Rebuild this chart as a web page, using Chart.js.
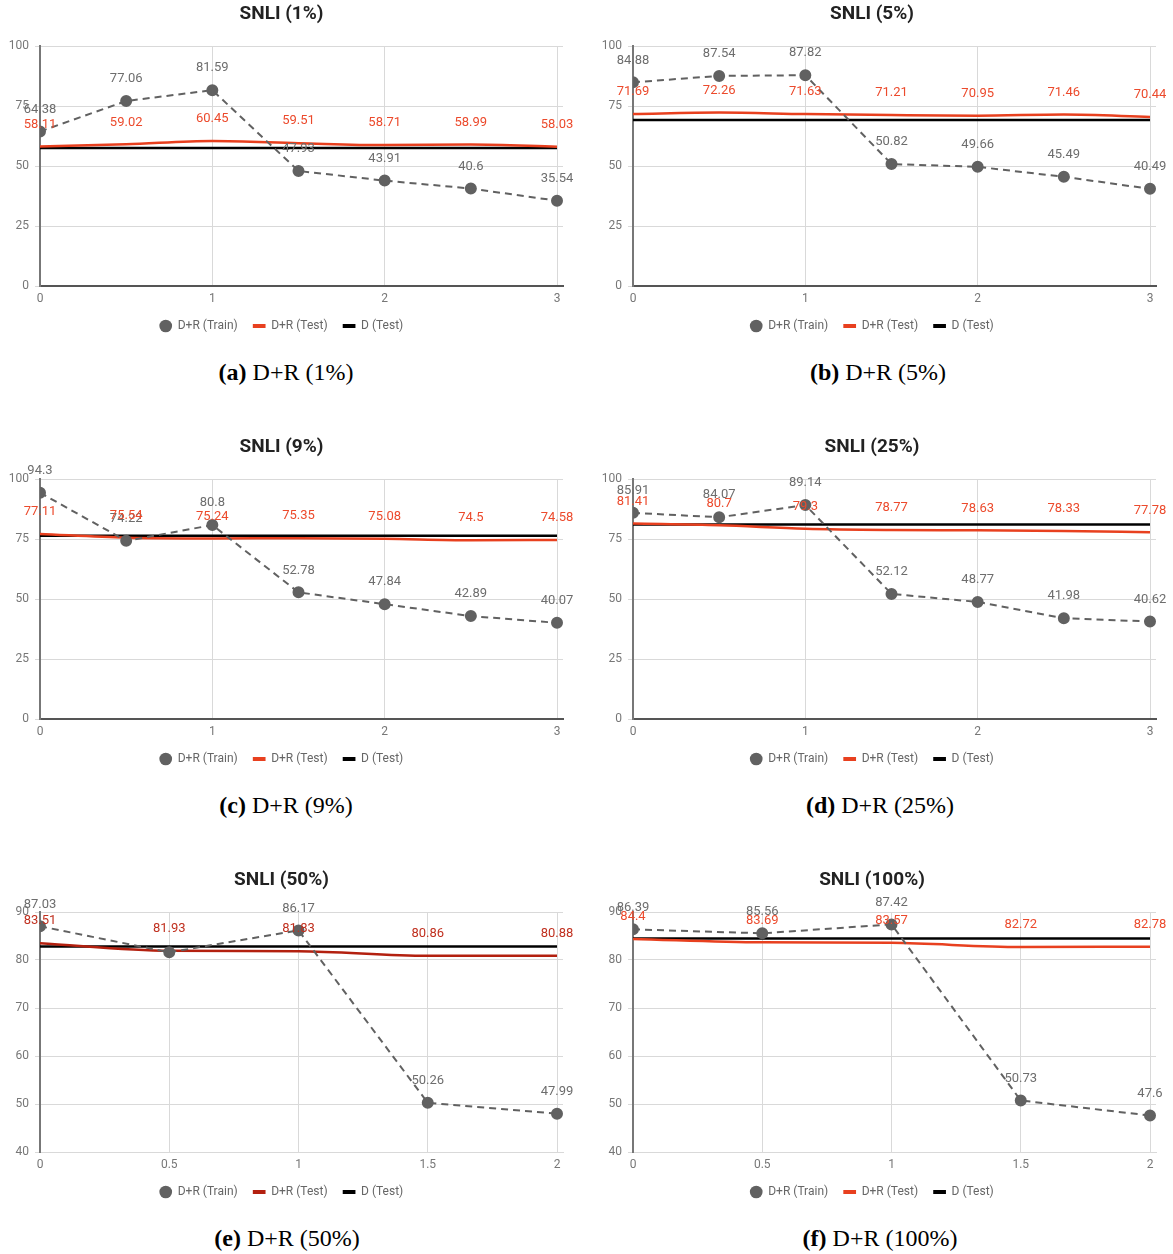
<!DOCTYPE html>
<html>
<head>
<meta charset="utf-8">
<script src="https://cdn.jsdelivr.net/npm/chart.js@4/dist/chart.umd.min.js"></script>
<style>
  body { margin: 0; background: #fff; width: 1173px; height: 1254px; position: relative; overflow: hidden; }
  .panel { position: absolute; }
  .cap { position: absolute; width: 400px; text-align: center; font-family: "Liberation Serif", "DejaVu Serif", serif; font-size: 24px; line-height: 28px; color: #000; }
</style>
</head>
<body>
<div class="panel" style="left:0;top:0;width:580px;height:342px"><canvas id="c0"></canvas></div>
<div class="panel" style="left:588px;top:0;width:585px;height:342px"><canvas id="c1"></canvas></div>
<div class="panel" style="left:0;top:433px;width:580px;height:342px"><canvas id="c2"></canvas></div>
<div class="panel" style="left:588px;top:433px;width:585px;height:342px"><canvas id="c3"></canvas></div>
<div class="panel" style="left:0;top:866px;width:580px;height:342px"><canvas id="c4"></canvas></div>
<div class="panel" style="left:588px;top:866px;width:585px;height:342px"><canvas id="c5"></canvas></div>

<div class="cap" style="left:86px;top:358px"><b>(a)</b> D+R (1%)</div>
<div class="cap" style="left:678px;top:358px"><b>(b)</b> D+R (5%)</div>
<div class="cap" style="left:86px;top:791px"><b>(c)</b> D+R (9%)</div>
<div class="cap" style="left:680px;top:791px"><b>(d)</b> D+R (25%)</div>
<div class="cap" style="left:87px;top:1224px"><b>(e)</b> D+R (50%)</div>
<div class="cap" style="left:680px;top:1224px"><b>(f)</b> D+R (100%)</div>

<script>
// data
var titles = ['SNLI (1%)', 'SNLI (5%)', 'SNLI (9%)', 'SNLI (25%)', 'SNLI (50%)', 'SNLI (100%)'];
var stepsLong = [0, 0.5, 1, 1.5, 2, 2.5, 3];
var stepsShort = [0, 0.5, 1, 1.5, 2];

var trainA = [64.38, 77.06, 81.59, 47.93, 43.91, 40.6, 35.54];
var testA  = [58.11, 59.02, 60.45, 59.51, 58.71, 58.99, 58.03];
var trainB = [84.88, 87.54, 87.82, 50.82, 49.66, 45.49, 40.49];
var testB  = [71.69, 72.26, 71.63, 71.21, 70.95, 71.46, 70.44];
var trainC = [94.3, 74.22, 80.8, 52.78, 47.84, 42.89, 40.07];
var testC  = [77.11, 75.54, 75.24, 75.35, 75.08, 74.5, 74.58];
var trainD = [85.91, 84.07, 89.14, 52.12, 48.77, 41.98, 40.62];
var testD  = [81.41, 80.7, 79.3, 78.77, 78.63, 78.33, 77.78];
var trainE = [87.03, 81.6, 86.17, 50.26, 47.99];
var testE  = [83.51, 81.93, 81.83, 80.86, 80.88];
var trainF = [86.39, 85.56, 87.42, 50.73, 47.6];
var testF  = [84.4, 83.69, 83.57, 82.72, 82.78];
var baseline = [57.5, 69.2, 76.4, 81.0, 82.8, 84.5];   // D (Test)

var yTicksFull = [0, 25, 50, 75, 100];
var yTicksTop = [40, 50, 60, 70, 80, 90];

var GRAY = '#616161';
var RED = '#e8401f';
var DARKRED = '#b3200f';

var valueLabels = {
  id: 'valueLabels',
  afterDatasetsDraw: function(chart) {
    var ctx = chart.ctx;
    ctx.save();
    ctx.font = '13px Roboto';
    ctx.textAlign = 'center';
    ctx.textBaseline = 'middle';
    chart.data.datasets.forEach(function(ds, i) {
      if (!ds.showValues) return;
      var meta = chart.getDatasetMeta(i);
      ctx.fillStyle = ds.labelColor;
      meta.data.forEach(function(pt, j) {
        if (ds.skipLabels && ds.skipLabels.indexOf(j) >= 0) return;
        ctx.fillText(String(ds.data[j].y), pt.x, pt.y - 22);
      });
    });
    ctx.restore();
  }
};

function pts(xs, ys) {
  return xs.map(function(x, i) { return {x: x, y: ys[i]}; });
}

function makeChart(id, n, xs, train, test, yTicks, xStep, redColor, skip) {
  var xMax = xs[xs.length - 1];
  var ymin = yTicks[0], ymax = yTicks[yTicks.length - 1];
  var yWidth = (id % 2 == 0) ? 40 : 45;
  var pxPerUnit = 517 / xMax;
  new Chart(document.getElementById('c' + id), {
    type: 'line',
    data: {
      datasets: [
        {
          label: 'D+R (Train)',
          data: pts(xs, train),
          borderColor: GRAY, backgroundColor: GRAY,
          borderWidth: 2, borderDash: [7, 5],
          pointRadius: 5, pointHoverRadius: 5,
          pointStyle: 'circle',
          showValues: true, labelColor: '#6d6d6d', skipLabels: skip
        },
        {
          label: 'D+R (Test)',
          data: pts(xs, test),
          borderColor: redColor, backgroundColor: redColor,
          borderWidth: 2.5, pointRadius: 0, pointStyle: 'line',
          cubicInterpolationMode: 'monotone',
          showValues: true, labelColor: redColor == DARKRED ? '#c0301f' : '#ec4a2c'
        },
        {
          label: 'D (Test)',
          data: pts([xs[0], xMax], [baseline[n], baseline[n]]),
          borderColor: '#000', backgroundColor: '#000',
          borderWidth: 2.5, pointRadius: 0, pointStyle: 'line'
        }
      ]
    },
    options: {
      responsive: true,
      maintainAspectRatio: false,
      animation: false,
      events: [],
      layout: { padding: { left: 0, right: 17, top: 0, bottom: 0 } },
      scales: {
        x: {
          type: 'linear',
          min: 0,
          max: xMax + 6 / pxPerUnit,
          afterFit: function(s) { s.height = 18.5; },
          ticks: {
            stepSize: xStep, includeBounds: false, padding: 6,
            color: '#777', font: { family: 'Roboto', size: 12 },
            callback: function(v) { return v > xMax + 1e-9 ? '' : String(v); }
          },
          grid: { color: '#d9d9d9', lineWidth: 1, drawTicks: false },
          border: { display: true, color: ymin == 0 ? '#555' : '#d9d9d9', width: ymin == 0 ? 2 : 1 }
        },
        y: {
          min: ymin, max: ymax,
          afterFit: function(s) { s.width = yWidth; },
          afterBuildTicks: function(s) { s.ticks = yTicks.map(function(v) { return {value: v}; }); },
          ticks: { padding: 6, color: '#777', font: { family: 'Roboto', size: 12 } },
          grid: { color: '#d9d9d9', lineWidth: 1, drawTicks: true, tickLength: 5, tickColor: '#d9d9d9' },
          border: { display: true, color: '#777', width: 2 }
        }
      },
      plugins: {
        title: {
          display: true,
          text: titles[n],
          color: '#222',
          font: { family: 'Roboto', size: 19, weight: 'bold' },
          padding: { top: 2.6, bottom: 20.6 }
        },
        legend: {
          position: 'bottom',
          labels: {
            usePointStyle: true,
            boxHeight: 9,
            padding: 15.5,
            color: '#666',
            font: { family: 'Roboto', size: 12 },
            generateLabels: function(chart) {
              var items = Chart.defaults.plugins.legend.labels.generateLabels(chart);
              items.forEach(function(it) {
                if (it.pointStyle == 'line') { it.lineWidth = 4; it.lineDash = []; }
                else { it.lineWidth = 0; it.lineDash = []; }
              });
              return items;
            }
          }
        },
        tooltip: { enabled: false }
      }
    },
    plugins: [valueLabels]
  });
}

makeChart(0, 0, stepsLong, trainA, testA, yTicksFull, 1, RED, []);
makeChart(1, 1, stepsLong, trainB, testB, yTicksFull, 1, RED, []);
makeChart(2, 2, stepsLong, trainC, testC, yTicksFull, 1, RED, []);
makeChart(3, 3, stepsLong, trainD, testD, yTicksFull, 1, RED, []);
makeChart(4, 4, stepsShort, trainE, testE, yTicksTop, 0.5, DARKRED, [1]);
makeChart(5, 5, stepsShort, trainF, testF, yTicksTop, 0.5, RED, []);
</script>
</body>
</html>
